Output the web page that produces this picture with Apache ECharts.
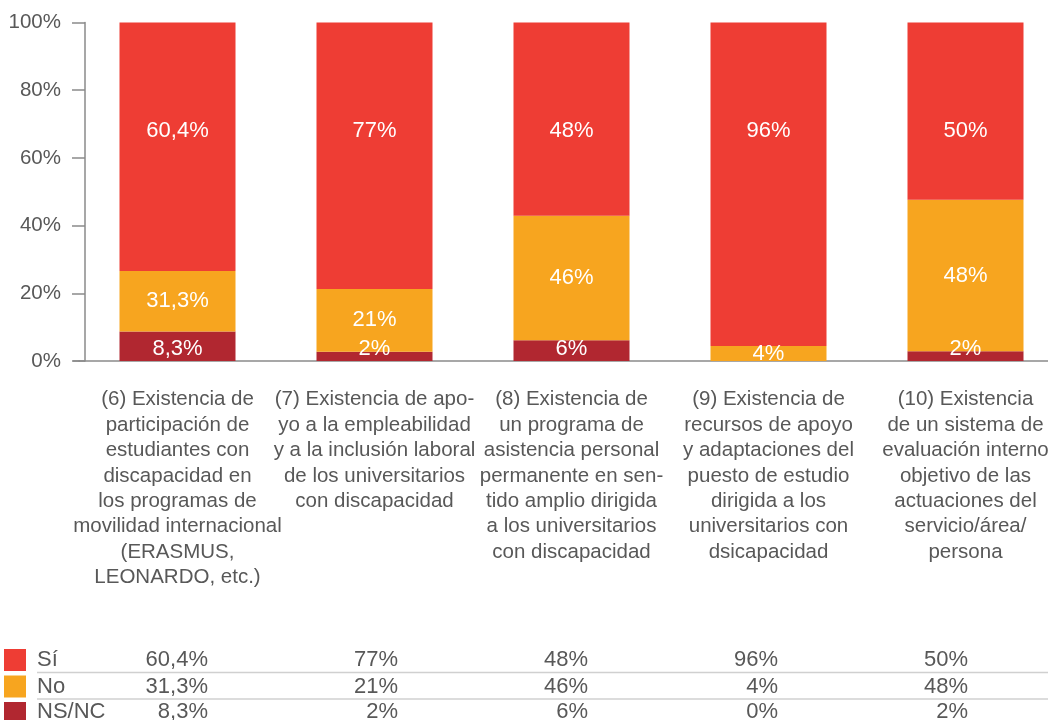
<!DOCTYPE html>
<html>
<head>
<meta charset="utf-8">
<script src="https://cdn.jsdelivr.net/npm/echarts@6/dist/echarts.min.js"></script>
<style>
  html, body { margin: 0; padding: 0; background: #fff; }
  #main { width: 1048px; height: 720px; }
</style>
</head>
<body>
<div id="main"></div>
<script>
const categories = [
  '(6) Existencia de\nparticipación de\nestudiantes con\ndiscapacidad en\nlos programas de\nmovilidad internacional\n(ERASMUS,\nLEONARDO, etc.)',
  '(7) Existencia de apo-\nyo a la empleabilidad\ny a la inclusión laboral\nde los universitarios\ncon discapacidad',
  '(8) Existencia de\nun programa de\nasistencia personal\npermanente en sen-\ntido amplio dirigida\na los universitarios\ncon discapacidad',
  '(9) Existencia de\nrecursos de apoyo\ny adaptaciones del\npuesto de estudio\ndirigida a los\nuniversitarios con\ndsicapacidad',
  '(10) Existencia\nde un sistema de\nevaluación interno\nobjetivo de las\nactuaciones del\nservicio/área/\npersona'
];

// printed percentages (labels + table)
const siPct = [60.4, 77, 48, 96, 50];
const noPct = [31.3, 21, 46, 4, 48];
const nsPct = [8.3, 2, 6, 0, 2];

// segment heights as drawn in the picture
const nsBar = [8.7, 2.7, 6.1, 0, 2.9];
const noBar = [17.9, 18.6, 36.8, 4.4, 44.7];
const siBar = [73.4, 78.7, 57.1, 95.6, 52.4];

const rowNames = ['Sí', 'No', 'NS/NC'];
const yTicks = [0, 20, 40, 60, 80, 100];

const FONT = '"Liberation Sans", Arial, Helvetica, sans-serif';
const colors = { si: '#EE3D34', no: '#F7A51F', ns: '#B12730' };
const fmt = v => String(v).replace('.', ',') + '%';

const chart = echarts.init(document.getElementById('main'));

function mkData(bars, labels) {
  return bars.map((v, i) => ({ value: v, pct: labels[i] }));
}

const option = {
  animation: false,
  textStyle: { fontFamily: FONT },
  grid: { left: 79, top: 22.5, width: 985, height: 338.5, outerBoundsMode: 'none', containLabel: false },
  xAxis: {
    type: 'category',
    data: categories,
    axisLine: { lineStyle: { color: '#8a8a8a', width: 1.5 } },
    axisTick: { show: false },
    axisLabel: {
      interval: 0, margin: 26, fontSize: 20.5, lineHeight: 25.4,
      color: '#585858', fontFamily: FONT, align: 'center', verticalAlign: 'top',
      hideOverlap: false
    }
  },
  yAxis: {
    type: 'value', min: 0, max: 100, interval: 20,
    offset: -6,
    axisLine: { show: true, lineStyle: { color: '#8a8a8a', width: 1.5 } },
    axisTick: { show: true, length: 13, lineStyle: { color: '#8a8a8a', width: 1.5 } },
    splitLine: { show: false },
    axisLabel: {
      margin: 24, fontSize: 20.5, color: '#585858', fontFamily: FONT,
      formatter: v => yTicks.includes(v) ? v + '%' : ''
    }
  },
  series: [
    {
      name: 'NS/NC', type: 'bar', stack: 't', barWidth: 116,
      itemStyle: { color: colors.ns },
      data: mkData(nsBar, nsPct),
      label: {
        show: true, position: 'insideBottom', distance: 1,
        color: '#fff', fontSize: 22, fontFamily: FONT,
        formatter: p => p.data.pct ? fmt(p.data.pct) : ''
      }
    },
    {
      name: 'No', type: 'bar', stack: 't', barWidth: 116,
      itemStyle: { color: colors.no },
      data: mkData(noBar, noPct),
      label: {
        show: true, position: 'inside',
        color: '#fff', fontSize: 22, fontFamily: FONT,
        formatter: p => fmt(p.data.pct)
      }
    },
    {
      name: 'Sí', type: 'bar', stack: 't', barWidth: 116,
      itemStyle: { color: colors.si },
      data: mkData(siBar, siPct),
      label: {
        show: true, position: 'insideTop', distance: 97,
        color: '#fff', fontSize: 22, fontFamily: FONT,
        formatter: p => fmt(p.data.pct)
      }
    }
  ]
};

chart.setOption(option);

// data table under the chart
const rows = [siPct, noPct, nsPct];
const rowColors = [colors.si, colors.no, colors.ns];
const rowTop = [649, 675.5, 702];
const rowMid = [660, 686.5, 712];
const elements = [];
rows.forEach((vals, r) => {
  elements.push({
    type: 'rect', shape: { x: 4, y: rowTop[r], width: 22, height: 22 },
    style: { fill: rowColors[r] }
  });
  elements.push({
    type: 'text', x: 37, y: rowMid[r],
    style: { text: rowNames[r], fill: '#585858', font: '22px ' + FONT, verticalAlign: 'middle' }
  });
  vals.forEach((v, i) => {
    elements.push({
      type: 'text', x: 208 + 190 * i, y: rowMid[r],
      style: { text: fmt(v), fill: '#585858', font: '22px ' + FONT, align: 'right', verticalAlign: 'middle' }
    });
  });
});
[672.5, 699].forEach(y => {
  elements.push({
    type: 'line', shape: { x1: 37, y1: y, x2: 1048, y2: y },
    style: { stroke: '#d0d0d0', lineWidth: 1.5 }
  });
});
// extend x axis line left past the y axis like the reference
elements.push({
  type: 'line', shape: { x1: 73, y1: 361, x2: 80, y2: 361 },
  style: { stroke: '#8a8a8a', lineWidth: 1.5 }
});
chart.setOption({ graphic: { elements } });
</script>
</body>
</html>
